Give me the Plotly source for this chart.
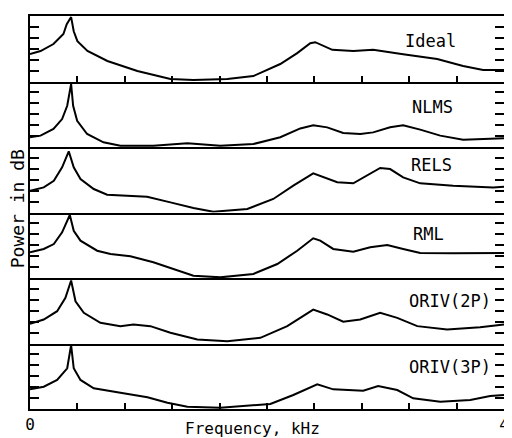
import plotly.graph_objects as go
from plotly.subplots import make_subplots

# ---------------- data (frequency in kHz, power in dB) ----------------
ideal_f = [0, 0.089, 0.198, 0.282, 0.31, 0.347, 0.369, 0.40, 0.485, 0.653, 0.906, 1.185, 1.379,
           1.665, 1.885, 2.112, 2.255, 2.365, 2.407, 2.475, 2.551, 2.728, 2.896, 3.149, 3.436,
           3.655, 3.824, 4.0]
ideal_db = [25.2, 27.9, 34.3, 43.5, 52.4, 59, 46, 37, 28, 18.8, 9.6, 2.3, 1.4,
            2.3, 5, 16, 26, 35, 36, 32.5, 29, 28, 29, 25, 20.6,
            14.2, 10.5, 10.5]

nlms_f = [0, 0.089, 0.198, 0.271, 0.314, 0.347, 0.364, 0.398, 0.482, 0.620, 0.763, 1.041, 1.328,
          1.606, 1.885, 2.112, 2.281, 2.390, 2.508, 2.643, 2.787, 2.896, 3.039, 3.149, 3.293,
          3.462, 3.655, 3.858, 4.0]
nlms_db = [8.9, 10.4, 16.5, 25.6, 37.8, 57.7, 37.8, 24, 11.9, 4.3, 1.2, 1.2, 3.4,
           1.2, 2.7, 8.9, 17, 20, 18, 12.8, 11.9, 13.4, 18, 20, 15.9,
           10.4, 6.7, 7.3, 8]

rels_f = [0, 0.116, 0.201, 0.271, 0.327, 0.369, 0.426, 0.538, 0.651, 0.988, 1.185, 1.379, 1.547,
          1.834, 2.053, 2.222, 2.390, 2.475, 2.593, 2.728, 2.846, 2.955, 3.039, 3.149, 3.293,
          3.571, 3.908, 4.0]
rels_db = [20, 23, 29, 41.4, 56, 41.4, 30.7, 21.5, 16.3, 14.5, 9.3, 4.1, 0.7,
           3.2, 12.4, 24.6, 35.9, 32.2, 27.7, 26.7, 33.7, 40.8, 39.8, 32.2, 26.7,
           24.6, 23, 23.6]

rml_f = [0, 0.116, 0.201, 0.271, 0.336, 0.369, 0.426, 0.567, 0.679, 0.847, 1.041, 1.244, 1.379,
         1.606, 1.885, 2.087, 2.255, 2.390, 2.449, 2.559, 2.728, 2.871, 3.015, 3.149, 3.293,
         3.571, 4.0]
rml_db = [23.5, 26.6, 31.1, 41.8, 57.7, 43.3, 34.2, 25, 22, 19.9, 14.4, 6.7, 2.1,
          0.6, 3.7, 12.8, 25, 36.4, 34.2, 26.6, 24.1, 28.1, 30.2, 26.6, 22.9,
          22.6, 22.9]

oriv2_f = [0, 0.116, 0.229, 0.299, 0.347, 0.384, 0.454, 0.594, 0.763, 0.873, 1.016, 1.185, 1.412,
           1.665, 1.944, 2.171, 2.390, 2.508, 2.643, 2.787, 2.955, 3.099, 3.268, 3.520, 3.798, 4.0]
oriv2_db = [18, 22, 29.6, 41.9, 57.7, 38.7, 28.1, 19, 15.9, 17.4, 15.9, 9.8, 3.7,
            2.1, 5.2, 15.9, 31.1, 26.6, 19.9, 22, 28.1, 23.5, 15.9, 12.8, 14.9, 17.4]

oriv3_f = [0, 0.116, 0.229, 0.314, 0.347, 0.369, 0.426, 0.538, 0.763, 0.991, 1.16, 1.328, 1.606,
           2.028, 2.222, 2.424, 2.559, 2.812, 2.938, 3.099, 3.234, 3.462, 3.715, 3.883, 4.0]
oriv3_db = [18, 20.4, 26.6, 37.3, 58.6, 37.3, 26.6, 19, 14.9, 10.7, 5.8, 2.1, 1.2,
            4.6, 12.8, 22.6, 18, 16.8, 21.1, 17.4, 9.8, 6.7, 8.2, 11.9, 12.8]

labels = ["Ideal", "NLMS", "RELS", "RML", "ORIV(2P)", "ORIV(3P)"]
series_f = [ideal_f, nlms_f, rels_f, rml_f, oriv2_f, oriv3_f]
series_db = [ideal_db, nlms_db, rels_db, rml_db, oriv2_db, oriv3_db]
label_pos = [(3.38, 37), (3.40, 36.6), (3.39, 43.5), (3.36, 40.3), (3.546, 38.5), (3.546, 38.5)]

x_tickvals = [0, 0.4, 0.8, 1.2, 1.6, 2.0, 2.4, 2.8, 3.2, 3.6, 4.0]
x_ticktext = ["0", "", "", "", "", "", "", "", "", "", "4"]
y_tickvals = [10, 20, 30, 40, 50]

# ---------------- figure ----------------
FONT = "DejaVu Sans Mono"
fig = make_subplots(rows=6, cols=1, vertical_spacing=0)

for i, (fx, dbv) in enumerate(zip(series_f, series_db)):
    r = i + 1
    fig.add_trace(go.Scatter(x=fx, y=dbv, mode="lines",
                             line=dict(color="black", width=2),
                             showlegend=False, hoverinfo="skip"), row=r, col=1)
    xa = dict(range=[0, 4], showgrid=False, zeroline=False, showline=True,
              linecolor="black", linewidth=2, mirror=False, fixedrange=True,
              automargin=False)
    if r == 1:
        xa.update(mirror=True, ticks="inside", ticklen=6, tickwidth=1.5, tickcolor="black",
                  tickvals=x_tickvals, showticklabels=False)
    elif r == 6:
        xa.update(ticks="inside", ticklen=6, tickwidth=1.5, tickcolor="black",
                  tickvals=x_tickvals, ticktext=x_ticktext, showticklabels=True,
                  tickfont=dict(family=FONT, size=16, color="black"))
    else:
        xa.update(ticks="", showticklabels=False)
    fig.update_xaxes(xa, row=r, col=1)
    fig.update_yaxes(range=[0, 60], showgrid=False, zeroline=False, showline=True,
                     linecolor="black", linewidth=2, mirror="ticks",
                     ticks="inside", ticklen=9, tickwidth=2, tickcolor="black",
                     tickvals=y_tickvals, showticklabels=False, fixedrange=True,
                     automargin=False, row=r, col=1)
    lx, ly = label_pos[i]
    xref = "x" if r == 1 else f"x{r}"
    yref = "y" if r == 1 else f"y{r}"
    fig.add_annotation(x=lx, y=ly, xref=xref, yref=yref, text=labels[i], showarrow=False,
                       font=dict(family=FONT, size=17, color="black"),
                       xanchor="center", yanchor="middle")

fig.add_annotation(x=-0.026, y=0.51, xref="paper", yref="paper", text="Power in dB",
                   textangle=-90, showarrow=False, xanchor="center", yanchor="middle",
                   font=dict(family=FONT, size=18, color="black"))
fig.add_annotation(x=0.47, y=-0.05, xref="paper", yref="paper", text="Frequency, kHz",
                   showarrow=False, xanchor="center", yanchor="middle",
                   font=dict(family=FONT, size=16, color="black"))

# the page body adds an 8 px offset; size the figure so the plot area lands where the reference has it
fig.update_layout(width=504, height=430, margin=dict(l=21.5, r=8, t=7.5, b=29),
                  paper_bgcolor="white", plot_bgcolor="white")

fig.write_html("out.html")
